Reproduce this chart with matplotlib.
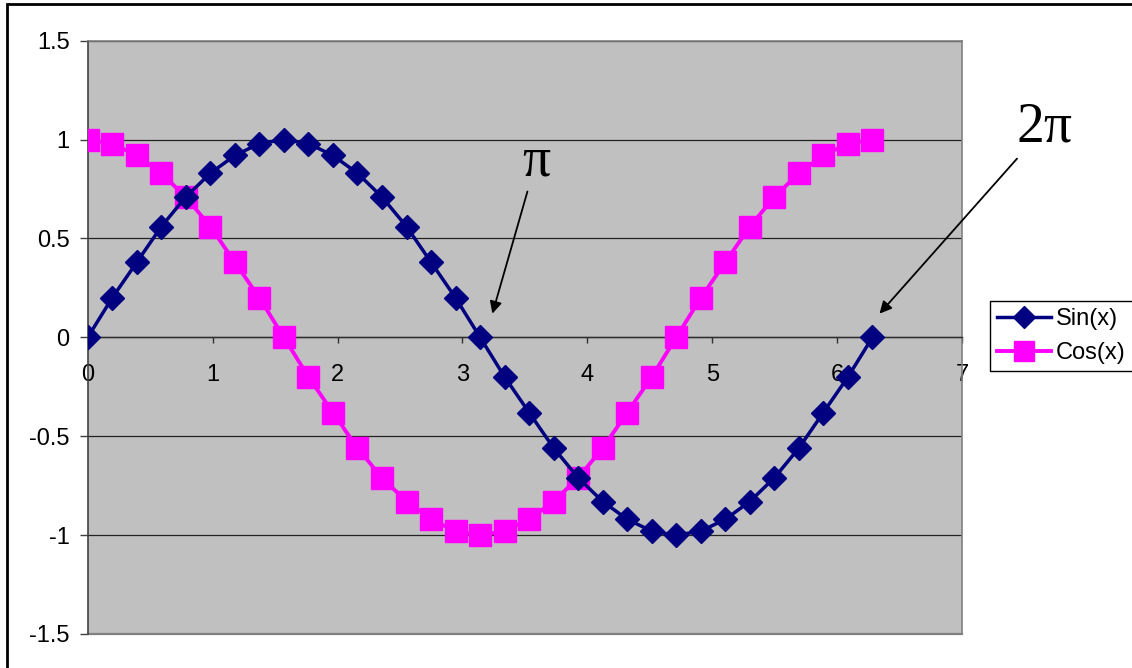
import matplotlib.pyplot as plt
from matplotlib.patches import Rectangle

x_vals = [0.000, 0.196, 0.393, 0.589, 0.785, 0.982, 1.178, 1.374, 1.571,
          1.767, 1.963, 2.160, 2.356, 2.553, 2.749, 2.945, 3.142,
          3.338, 3.534, 3.731, 3.927, 4.123, 4.320, 4.516, 4.712,
          4.909, 5.105, 5.301, 5.498, 5.694, 5.890, 6.087, 6.283]
sin_vals = [0.00, 0.20, 0.38, 0.56, 0.71, 0.83, 0.92, 0.98, 1.00,
            0.98, 0.92, 0.83, 0.71, 0.56, 0.38, 0.20, 0.00,
            -0.20, -0.38, -0.56, -0.71, -0.83, -0.92, -0.98, -1.00,
            -0.98, -0.92, -0.83, -0.71, -0.56, -0.38, -0.20, 0.00]
cos_vals = [1.00, 0.98, 0.92, 0.83, 0.71, 0.56, 0.38, 0.20, 0.00,
            -0.20, -0.38, -0.56, -0.71, -0.83, -0.92, -0.98, -1.00,
            -0.98, -0.92, -0.83, -0.71, -0.56, -0.38, -0.20, 0.00,
            0.20, 0.38, 0.56, 0.71, 0.83, 0.92, 0.98, 1.00]

x_ticks = [0, 1, 2, 3, 4, 5, 6, 7]
y_ticks = [-1.5, -1, -0.5, 0, 0.5, 1, 1.5]
y_labels = ['-1.5', '-1', '-0.5', '0', '0.5', '1', '1.5']

plt.rcParams['font.family'] = ['Liberation Sans', 'DejaVu Sans']

fig = plt.figure(figsize=(11.32, 6.68), dpi=100)
fig.patch.set_facecolor('white')
ax = fig.add_axes([0.0775, 0.0509, 0.7723, 0.8881])
ax.set_facecolor('#C0C0C0')

ax.plot(x_vals, sin_vals, color='#000080', lw=2.5, marker='D', ms=12.5,
        label='Sin(x)', zorder=4)
ax.plot(x_vals, cos_vals, color='#FF00FF', lw=2.8, marker='s', ms=16.5,
        label='Cos(x)', zorder=3)

ax.set_xlim(0, 7)
ax.set_ylim(-1.5, 1.5)
ax.set_yticks(y_ticks)
ax.set_yticklabels(y_labels)
ax.set_xticks(x_ticks)
ax.set_xticklabels([str(t) for t in x_ticks])

ax.yaxis.grid(True, color='#222222', lw=0.9)
ax.set_axisbelow(True)

for s in ['top', 'right']:
    ax.spines[s].set_color('#808080')
    ax.spines[s].set_linewidth(1.2)
ax.spines['left'].set_color('#404040')
ax.spines['left'].set_linewidth(1.2)
ax.spines['bottom'].set_position(('data', 0))
ax.spines['bottom'].set_color('#303030')
ax.spines['bottom'].set_linewidth(1.0)
ax.axhline(-1.5, color='#808080', lw=1.6, clip_on=False, zorder=2.5)

ax.tick_params(axis='y', length=6, width=1, color='#404040', pad=7,
               labelsize=17)
ax.tick_params(axis='x', direction='out', length=4.5, width=1,
               color='#303030', pad=15, labelsize=17)

ax.annotate('\u03c0', xy=(3.24, 0.12), xytext=(3.59, 0.89),
            fontsize=40, family='Liberation Serif', ha='center', va='center',
            arrowprops=dict(arrowstyle='-|>', color='black', lw=1.3,
                            mutation_scale=18, shrinkA=1, shrinkB=0))
ax.annotate('2\u03c0', xy=(6.34, 0.12), xytext=(7.66, 1.06),
            fontsize=40, family='Liberation Serif', ha='center', va='center',
            annotation_clip=False,
            arrowprops=dict(arrowstyle='-|>', color='black', lw=1.3,
                            mutation_scale=18, shrinkA=2, shrinkB=0))

leg = ax.legend(loc='upper left', bbox_to_anchor=(990 / 1132, 1 - 301 / 668),
                bbox_transform=fig.transFigure, fontsize=17, fancybox=False,
                framealpha=1, edgecolor='black', handlelength=2.3,
                handletextpad=0.2, borderpad=0.3, borderaxespad=0,
                labelspacing=0.5, markerscale=0.9)
leg.get_frame().set_linewidth(1.0)

# outer chart border (runs off the right and bottom edges)
fig.patches.append(Rectangle((7 / 1132, -0.2), 2.0, 1.2 - 4 / 668,
                             transform=fig.transFigure, fill=False,
                             edgecolor='black', lw=2.0))

fig.savefig('out.png', dpi=100)
